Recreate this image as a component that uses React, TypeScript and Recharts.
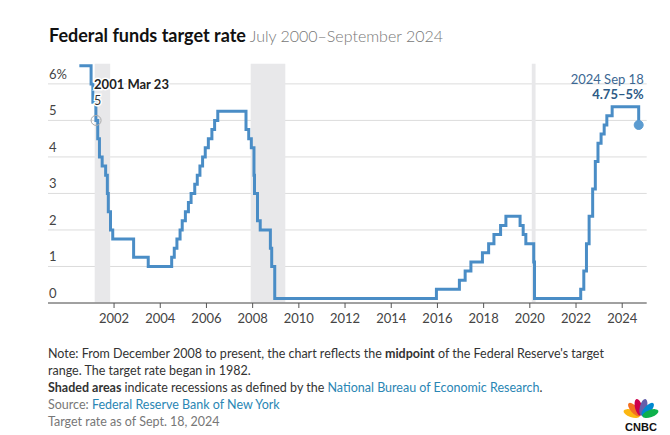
import React from "react";
import {
  LineChart, Line, XAxis, YAxis, CartesianGrid, ReferenceArea, ReferenceDot,
} from "recharts";

// target rate changes (midpoint of range after Dec 2008)
const changeDates = [
  "2000-07-01", "2001-01-03", "2001-01-31", "2001-03-20", "2001-04-18", "2001-05-15",
  "2001-06-27", "2001-08-21", "2001-09-17", "2001-10-02", "2001-11-06", "2001-12-11",
  "2002-11-06", "2003-06-25", "2004-06-30", "2004-08-10", "2004-09-21", "2004-11-10",
  "2004-12-14", "2005-02-02", "2005-03-22", "2005-05-03", "2005-06-30", "2005-08-09",
  "2005-09-20", "2005-11-01", "2005-12-13", "2006-01-31", "2006-03-28", "2006-05-10",
  "2006-06-29", "2007-09-18", "2007-10-31", "2007-12-11", "2008-01-22", "2008-01-30",
  "2008-03-18", "2008-04-30", "2008-10-08", "2008-10-29", "2008-12-16", "2015-12-16",
  "2016-12-14", "2017-03-15", "2017-06-14", "2017-12-13", "2018-03-21", "2018-06-13",
  "2018-09-26", "2018-12-19", "2019-07-31", "2019-09-18", "2019-10-30", "2020-03-03",
  "2020-03-15", "2022-03-16", "2022-05-04", "2022-06-15", "2022-07-27", "2022-09-21",
  "2022-11-02", "2022-12-14", "2023-02-01", "2023-03-22", "2023-05-03", "2023-07-26",
  "2024-09-18",
];
const targetRates = [
  6.5, 6.0, 5.5, 5.0, 4.5, 4.0,
  3.75, 3.5, 3.0, 2.5, 2.0, 1.75,
  1.25, 1.0, 1.25, 1.5, 1.75, 2.0,
  2.25, 2.5, 2.75, 3.0, 3.25, 3.5,
  3.75, 4.0, 4.25, 4.5, 4.75, 5.0,
  5.25, 4.75, 4.5, 4.25, 3.5, 3.0,
  2.25, 2.0, 1.5, 1.0, 0.125, 0.375,
  0.625, 0.875, 1.125, 1.375, 1.625, 1.875,
  2.125, 2.375, 2.125, 1.875, 1.625, 1.125,
  0.125, 0.375, 0.875, 1.625, 2.375, 3.125,
  3.875, 4.375, 4.625, 4.875, 5.125, 5.375,
  4.875,
];

const recessionStarts = ["2001-03-01", "2007-12-01", "2020-02-01"];
const recessionEnds = ["2001-11-01", "2009-06-01", "2020-04-01"];

const xTicks = [2002, 2004, 2006, 2008, 2010, 2012, 2014, 2016, 2018, 2020, 2022, 2024];
const yTicks = [0, 1, 2, 3, 4, 5, 6];

const hoverDate = "2001-03-23";
const hoverRate = 5;
const lastDate = "2024-09-18";
const lastRate = 4.875;

function toYear(d: string) {
  const [y, m, day] = d.split("-").map(Number);
  const start = Date.UTC(y, 0, 1);
  const end = Date.UTC(y + 1, 0, 1);
  return y + (Date.UTC(y, m - 1, day) - start) / (end - start);
}

const data = changeDates.map((d, i) => ({ t: toYear(d), rate: targetRates[i] }));

const FONT = "Lato, 'Open Sans', sans-serif";
const LEFT = 48;
const BLUE = "#4a8dc6";

const renderYTick = (props: any) => {
  const { y, payload } = props;
  return (
    <text x={LEFT + 1} y={y - 5} fill="#444" fontSize={13} fontFamily={FONT} textAnchor="start">
      {payload.value === 6 ? "6%" : payload.value}
    </text>
  );
};

const CnbcLogo = () => {
  const colors = ["#fcb711", "#f37021", "#cc004c", "#6460aa", "#0089d0", "#0db14b"];
  return (
    <svg width={40} height={38} viewBox="0 0 40 38">
      {colors.map((c, i) => {
        const ang = -70 + i * 28;
        return (
          <ellipse key={c} cx={20} cy={11} rx={3.6} ry={8.5} fill={c}
            transform={`rotate(${ang} 20 21)`} />
        );
      })}
      <text x={20} y={35} textAnchor="middle" fontSize={11} fontWeight={800} fontFamily="Arial, sans-serif" fill="#111">CNBC</text>
    </svg>
  );
};

export default function App() {
  const noteStyle: React.CSSProperties = {
    position: "absolute", left: 48, fontFamily: FONT, fontSize: 12.5, color: "#333", whiteSpace: "nowrap",
  };
  return (
    <div style={{ position: "absolute", left: 0, top: 0, width: 670, height: 435, background: "#fff", overflow: "hidden" }}>
      <div style={{ position: "absolute", left: 49, top: 24, fontFamily: FONT, whiteSpace: "nowrap" }}>
        <span style={{ fontSize: 18, fontWeight: 700, color: "#111" }}>Federal funds target rate</span>
        <span style={{ fontSize: 16, fontWeight: 300, color: "#777" }}> July 2000–September 2024</span>
      </div>
      <div style={{ position: "absolute", left: 0, top: 0 }}>
        <LineChart width={670} height={335} data={data} margin={{ top: 63.8, right: 23.3, bottom: 2, left: 0 }}>
          {recessionStarts.map((s, i) => (
            <ReferenceArea key={s} x1={toYear(s)} x2={toYear(recessionEnds[i])} y1={0} y2={6.55}
              fill="#e8e8ea" fillOpacity={1} stroke="none" />
          ))}
          <CartesianGrid vertical={false} stroke="#dcdcdc" horizontalValues={yTicks} />
          <XAxis dataKey="t" type="number" domain={[1999.14, 2025.06]} ticks={xTicks} allowDataOverflow
            axisLine={{ stroke: "#555" }} tickLine={{ stroke: "#555" }} tickSize={5} tickMargin={6} height={30}
            tick={{ fill: "#444", fontSize: 13, fontFamily: FONT }} />
          <YAxis type="number" domain={[0, 6.55]} ticks={yTicks} width={LEFT} axisLine={false} tickLine={false}
            tick={renderYTick} allowDataOverflow />
          <Line type="stepAfter" dataKey="rate" stroke={BLUE} strokeWidth={3} dot={false}
            isAnimationActive={false} strokeLinejoin="miter" />
          <ReferenceDot x={toYear(hoverDate)} y={hoverRate} r={5} fill="none" stroke="#aaa" strokeWidth={1}
            label={(p: any) => {
              const vb = p.viewBox;
              const cx = vb.x + vb.width / 2;
              const cy = vb.y + vb.height / 2;
              return (
                <g fontFamily={FONT} style={{ paintOrder: "stroke" }}>
                  <text x={cx - 2} y={cy - 31} fontSize={13} fontWeight={700} fill="#222" stroke="#fff" strokeWidth={3}>2001 Mar 23</text>
                  <text x={cx - 2} y={cy - 15} fontSize={12.5} fill="#333" stroke="#fff" strokeWidth={3}>{hoverRate}</text>
                </g>
              );
            }} />
          <ReferenceDot x={toYear(lastDate)} y={lastRate} r={4.5} fill="#5b9bd0" stroke="#5b9bd0"
            label={(p: any) => {
              const vb = p.viewBox;
              const cx = vb.x + vb.width / 2;
              const cy = vb.y + vb.height / 2;
              return (
                <g fontFamily={FONT}>
                  <text x={cx + 5} y={cy - 41} fontSize={13} fill="#3b6792" textAnchor="end">2024 Sep 18</text>
                  <text x={cx + 5} y={cy - 26} fontSize={13} fontWeight={700} fill="#2c5a86" textAnchor="end">4.75–5%</text>
                </g>
              );
            }} />
        </LineChart>
      </div>
      <div style={{ ...noteStyle, top: 346 }}>
        Note: From December 2008 to present, the chart reflects the <b>midpoint</b> of the Federal Reserve's target
      </div>
      <div style={{ ...noteStyle, top: 363 }}>range. The target rate began in 1982.</div>
      <div style={{ ...noteStyle, top: 380 }}>
        <b>Shaded areas</b> indicate recessions as defined by the <span style={{ color: "#2a86b4" }}>National Bureau of Economic Research</span>.
      </div>
      <div style={{ ...noteStyle, top: 397, color: "#777" }}>
        Source: <span style={{ color: "#2a86b4" }}>Federal Reserve Bank of New York</span>
      </div>
      <div style={{ ...noteStyle, top: 414, color: "#777" }}>Target rate as of Sept. 18, 2024</div>
      <div style={{ position: "absolute", left: 621, top: 396 }}>
        <CnbcLogo />
      </div>
    </div>
  );
}
